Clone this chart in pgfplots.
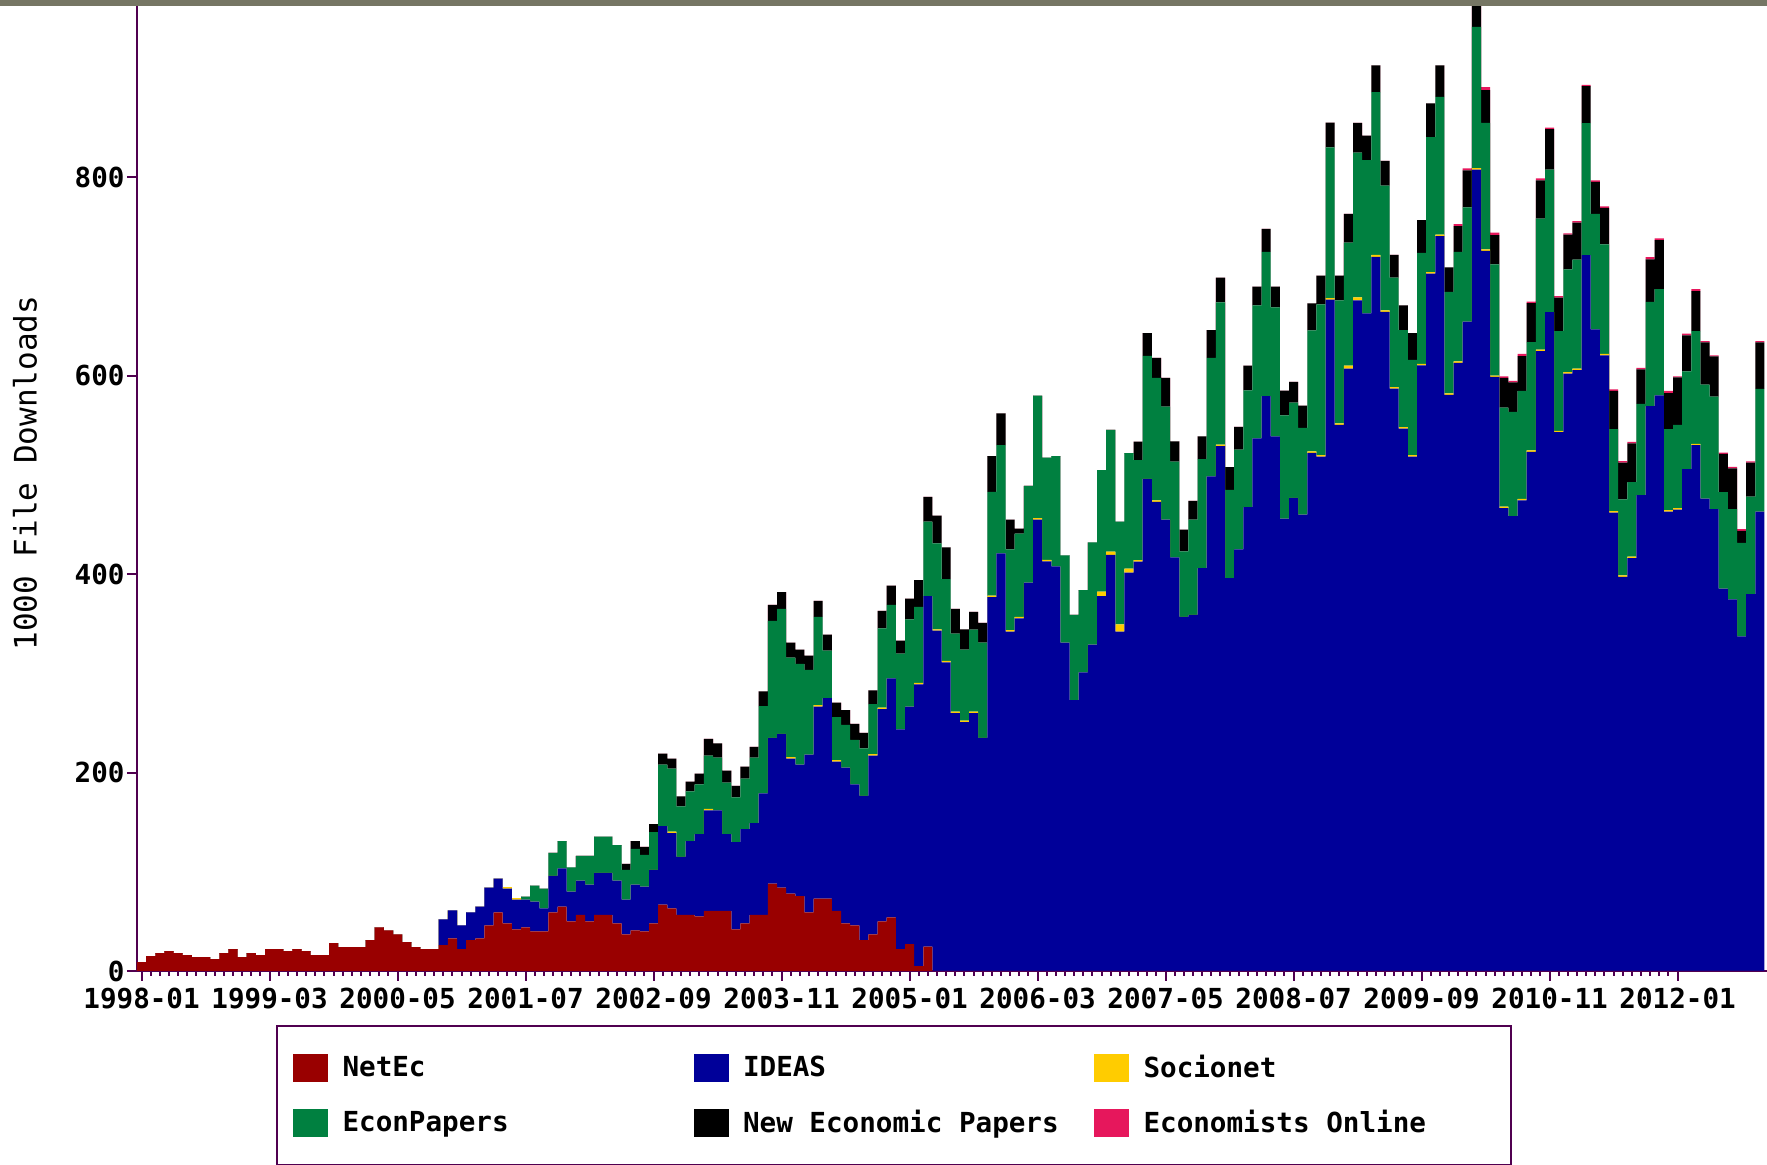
\documentclass[border=0pt]{standalone}
\usepackage{pgfplots}
\pgfplotsset{compat=1.18}
\usepackage{pgfplotstable}
\usepackage{fontspec}
\setmainfont{DejaVu Sans}
\setmonofont{DejaVu Sans Mono}
\definecolor{netec}{RGB}{153,0,0}
\definecolor{ideas}{RGB}{0,0,153}
\definecolor{socio}{RGB}{255,204,0}
\definecolor{econp}{RGB}{0,128,64}
\definecolor{nep}{RGB}{0,0,0}
\definecolor{eo}{RGB}{230,23,92}
\definecolor{axc}{RGB}{80,0,80}
\definecolor{topbar}{RGB}{118,118,100}

\pgfplotstableread{
netec ideas soc econ nep eo
9 0 0 0 0 0
15 0 0 0 0 0
18 0 0 0 0 0
20 0 0 0 0 0
18 0 0 0 0 0
16 0 0 0 0 0
14 0 0 0 0 0
14 0 0 0 0 0
12 0 0 0 0 0
18 0 0 0 0 0
22 0 0 0 0 0
14 0 0 0 0 0
18 0 0 0 0 0
16 0 0 0 0 0
22 0 0 0 0 0
22 0 0 0 0 0
20 0 0 0 0 0
22 0 0 0 0 0
20 0 0 0 0 0
16 0 0 0 0 0
16 0 0 0 0 0
28 0 0 0 0 0
24 0 0 0 0 0
24 0 0 0 0 0
24 0 0 0 0 0
31 0 0 0 0 0
44 0 0 0 0 0
41 0 0 0 0 0
37 0 0 0 0 0
29 0 0 0 0 0
24 0 0 0 0 0
22 0 0 0 0 0
22 0 0 0 0 0
26 26 0 0 0 0
33 28 0 0 0 0
22 24 0 0 0 0
31 28 0 0 0 0
33 32 0 0 0 0
46 38 0 0 0 0
59 34 0 0 0 0
48 35 1.5 0 0 0
42 30 1.5 0 0 0
44 28 0 3 0 0
40 30 0 16 0 0
40 23 0 20 0 0
59 37 0 23 0 0
65 38.5 0 27.5 0 0
50 30 0 24.5 0 0
56.5 34.5 0 25 0 0
50 37 0 29 0 0
56.5 42.5 0 36.5 0 0
56.5 42.5 0 36.5 0 0
48 43 0 36 0 0
37 35 0 30 6 0
41 46 0 36 8 0
40 45 0 32 8 0
48 54 0 38 8 0
67 79 0 62 11 0
63 76 1.5 63.5 10 0
56.5 58.5 0 51 10 0
56.5 74.5 0 50 10 0
55 83 0 50 11 0
60.5 101.5 1.5 53.5 17 0
60.5 101.5 0 53 14.5 0
60.5 77.5 0 52 12 0
42 88 0 45 11.5 0
48 95 0 51 12 0
56.5 92.5 0 66 11 0
56.5 122.5 0 88 15 0
88 147 0 118 16 0
84 155 0 126 17 0
78 136 1.5 100.5 15 0
75.5 132.5 0 101.5 14.5 0
59 159 0 85.5 14.5 0
73 193.5 1.5 89 16 0
73 202 0 48 16 0
60.5 150.5 1.5 43.5 14.5 0
48 157 0 43 15 0
46 142 0 45 16 0
31 145.5 0 48 15.5 0
37 180 1.5 50.5 14 0
50 214 1.5 80 17.5 0
54 241 0 74 19.5 0
22 221.5 0 76.5 13 0
27 239.5 0 88 21 0
5 284 1.5 76.5 27 0
24.5 353.5 0 75 25 0
0 343 1.5 86.5 28 0
0 311 1.5 82.5 32 0
0 260 1.5 78.5 25 0
0 251 1.5 71.5 20.5 0
0 260 1.5 82.5 18 0
0 235 0 96 20 0
0 377 1.5 104.5 36 0
0 421 0 109 32 0
0 342 1.5 81.5 30 0
0 355.5 1.5 84 5 0
0 391.5 0 97.5 0 0
0 455 1.5 123.5 0 0
0 413 1.5 103 0 0
0 408 0 111 0 0
0 331 0 88 0 0
0 273 0 86 0 0
0 301 0 83 0 0
0 329 0 103 0 0
0 378 4.4 122.6 0 0
0 419.4 3.4 122.6 0 0
0 342.1 7.4 103.5 0 0
0 401.6 4 116.4 0 0
0 412.7 1.5 100.8 18.6 0
0 496 0 124 23 0
0 473 1.5 123.5 20 0
0 455 0 114 29 0
0 417 0 96.5 20.5 0
0 357 0 66 22 0
0 359 0 96 19 0
0 406 0 110 23 0
0 498.5 0 119.5 28 0
0 529 1.5 143.5 25 0
0 396 0 89 23 0
0 425 0 100.5 23 0
0 467.6 0 117.7 25 0
0 537 0 134 19 0
0 579.5 0 145.5 23 0
0 539 0 130 21 0
0 456 0 104 25 0
0 477 0 96 21 0
0 460 0 87.5 22.5 0
0 522.4 1.5 122 27 0
0 518.5 1.5 152 29 0
0 676.7 1.5 152 25 0
0 550.6 1.5 124 25 0
0 607.3 3 124 29 0
0 676 3 146 30 0
0 663 0 154.5 24.5 0
0 720 2 164 27 0
0 664.4 1.5 125.8 25 0
0 587 1.5 110.5 23 0
0 546.7 1.5 97.8 25 0
0 518.5 1.5 96 27 0
0 610.4 1.5 112 33 0
0 703 1.5 136 34 0
0 740.8 1.5 139 31.6 0
0 580.7 1.5 102.5 24.7 0
0 613 1.5 110.5 26 2
0 654.7 0 115 37.3 2
0 807.9 1.5 142.4 33 3
0 726 1.5 127.5 33 3
0 598.8 1.5 112 29.5 2.5
0 466.5 1.5 100 29.8 1.5
0 458.6 0 105 29.7 1.5
0 474.4 1.5 109 35 2.2
0 523.4 1.5 109 39.4 1.5
0 624.9 1.5 132 38.6 2
0 664.3 0 143.6 40.7 1.5
0 543.1 1.5 100.5 33.7 1.5
0 602.2 1.5 103.5 35 1.5
0 605.7 1.5 110 37.2 1.5
0 721.7 0 133 37.2 1.5
0 646.8 0 116.4 32.4 1.5
0 620.6 1.5 110.5 36.8 1.5
0 462.1 1.5 82.6 38.5 1.5
0 397.3 1.5 76.5 37.2 1.5
0 416.2 1.5 75 39.3 1.5
0 479.6 0 92 35 1.5
0 569.4 0 105 43 2.2
0 580.3 0 107 49.5 1.7
0 463 1.5 81.7 36.3 2.2
0 465 1.5 84 48 1
0 505.9 0 98.5 36.3 1.7
0 530 1.5 113.6 40.2 2.2
0 476.1 0 115.1 42.5 1.3
0 465.6 0 113.4 40.7 1
0 385.5 0 97.2 38.5 1.3
0 374.6 0 91 41.2 1.3
0 337.4 0 94.1 12.2 1.8
0 379.8 0 98.5 34.2 1.3
0 463 0 123.9 46.8 1.3
0 463 0 123.9 46.8 1.3
}\downloads

\begin{document}
\begin{tikzpicture}[x=1pt,y=1pt]
\useasboundingbox (0,0) rectangle (883.5,582.5);
\begin{axis}[
  at={(68.5pt,97pt)}, anchor=south west,
  width=815pt, height=482.5pt, scale only axis,
  xmin=-0.5, xmax=177.78, ymin=0, ymax=972.8,
  stack plots=y, const plot mark left,
  axis x line*=bottom, axis y line*=left,
  axis line style={draw=axc, line width=1pt},
  tick style={draw=axc, line width=1pt},
  tick align=outside,
  major tick length=5pt, minor tick length=2.5pt,
  xtick={0,14,...,168},
  xticklabels={1998-01,1999-03,2000-05,2001-07,2002-09,2003-11,2005-01,2006-03,2007-05,2008-07,2009-09,2010-11,2012-01},
  minor x tick num=13,
  ytick={0,200,400,600,800},
  minor y tick num=0,
  /pgf/number format/assume math mode=true,
  ticklabel style={font=\ttfamily\bfseries\fontsize{13.8}{16}\selectfont},
  yticklabel style={inner xsep=1pt},
  ylabel={1000 File Downloads},
  every axis y label/.style={font=\ttfamily\fontsize{15.5}{18}\selectfont, at={(axis description cs:-0.0687,0.516)}, anchor=center, rotate=90},
  legend columns=3,
  legend image code/.code={\fill[#1] (0pt,-7pt) rectangle (17.5pt,7pt);},
  legend style={at={(axis description cs:0.0853,-0.056)}, anchor=north west,
     draw=axc, line width=1pt, fill=white, inner xsep=8pt, inner ysep=14pt,
     font=\ttfamily\bfseries\fontsize{13.8}{16}\selectfont,
     row sep=13.5pt,
     nodes={text width=175.5pt, inner sep=0pt, anchor=west, align=flush left},
     /tikz/every odd column/.append style={column sep=7.25pt}},
]
\addplot[fill=netec, draw=none] table[x expr=\coordindex-0.5, y=netec]{\downloads} \closedcycle;
\addlegendentry{NetEc}
\addplot[fill=ideas, draw=none] table[x expr=\coordindex-0.5, y=ideas]{\downloads} \closedcycle;
\addlegendentry{IDEAS}
\addplot[fill=socio, draw=none] table[x expr=\coordindex-0.5, y=soc]{\downloads} \closedcycle;
\addlegendentry{Socionet}
\addplot[fill=econp, draw=none] table[x expr=\coordindex-0.5, y=econ]{\downloads} \closedcycle;
\addlegendentry{EconPapers}
\addplot[fill=nep, draw=none] table[x expr=\coordindex-0.5, y=nep]{\downloads} \closedcycle;
\addlegendentry{New Economic Papers}
\addplot[fill=eo, draw=none] table[x expr=\coordindex-0.5, y=eo]{\downloads} \closedcycle;
\addlegendentry{Economists Online}
\end{axis}
\fill[topbar] (0,579.5) rectangle (883.5,582.5);
\end{tikzpicture}
\end{document}
